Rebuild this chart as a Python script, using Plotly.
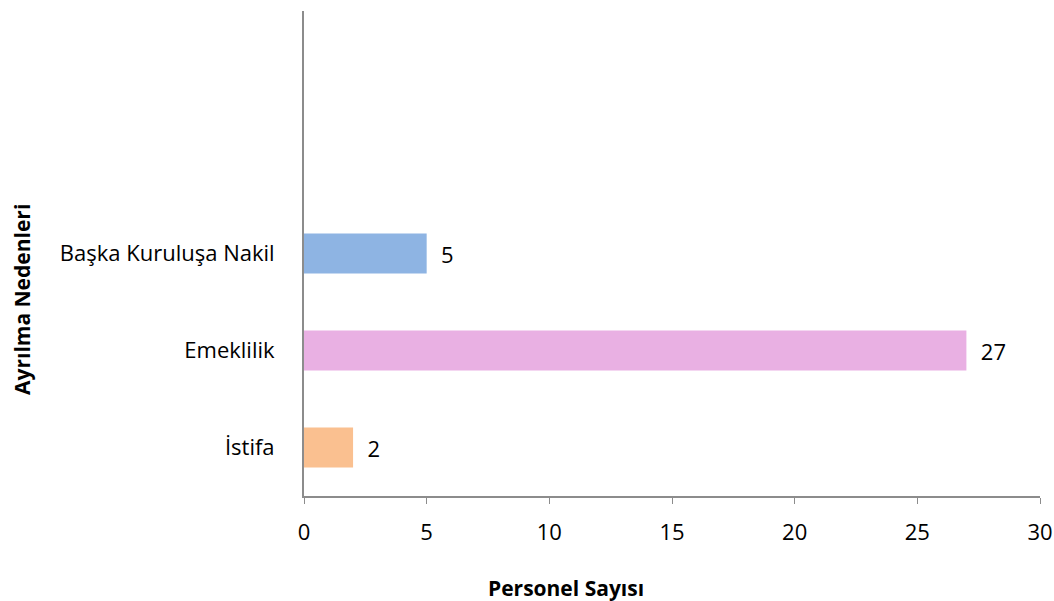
import plotly.graph_objects as go

categories = ["İstifa", "Emeklilik", "Başka Kuruluşa Nakil"]
values = [2, 27, 5]
colors = ["#FAC090", "#E9B0E3", "#8EB4E3"]
x_ticks = [0, 5, 10, 15, 20, 25, 30]

FONT = "'Open Sans', Lato, sans-serif"
W, H = 1054, 601
L, R, T, B = 304, 14, 11, 105

fig = go.Figure(go.Bar(
    x=values, y=categories, orientation="h",
    marker=dict(color=colors, line=dict(width=0)),
    width=0.41,
    text=values, texttemplate="  %{x}", textposition="outside",
    textfont=dict(family=FONT, size=22, color="#000000"),
    cliponaxis=False,
))

pw = W - L - R
ph = H - T - B

fig.update_layout(
    width=W, height=H,
    margin=dict(l=L, r=R, t=T, b=B),
    paper_bgcolor="white", plot_bgcolor="white",
    showlegend=False,
    font=dict(family=FONT, size=22, color="#000000"),
    xaxis=dict(
        range=[0, 30], tickvals=x_ticks, showgrid=False, zeroline=False,
        showline=True, linecolor="#8c8c8c", linewidth=2,
        ticks="outside", ticklen=6, tickcolor="#8c8c8c", tickwidth=1,
        tickfont=dict(size=22), ticklabelstandoff=10, automargin=False,
    ),
    yaxis=dict(
        type="category", categoryorder="array", categoryarray=categories,
        range=[-0.5, 4.5], showgrid=False, zeroline=False,
        showline=True, linecolor="#8c8c8c", linewidth=2,
        ticks="", tickfont=dict(size=22), ticklabelstandoff=23, automargin=False,
    ),
    annotations=[
        dict(text="<b>Personel Sayısı</b>", xref="paper", yref="paper",
             x=(566 - L) / pw, y=(H - B - 588) / ph,
             xanchor="center", yanchor="middle",
             showarrow=False, font=dict(size=21)),
        dict(text="<b>Ayrılma Nedenleri</b>", xref="paper", yref="paper",
             x=(22 - L) / pw, y=(H - B - 300) / ph, textangle=-90,
             xanchor="center", yanchor="middle",
             showarrow=False, font=dict(size=21)),
    ],
)

fig.write_html("out.html", config={"displayModeBar": False},
               post_script="document.body.style.margin='0';")
